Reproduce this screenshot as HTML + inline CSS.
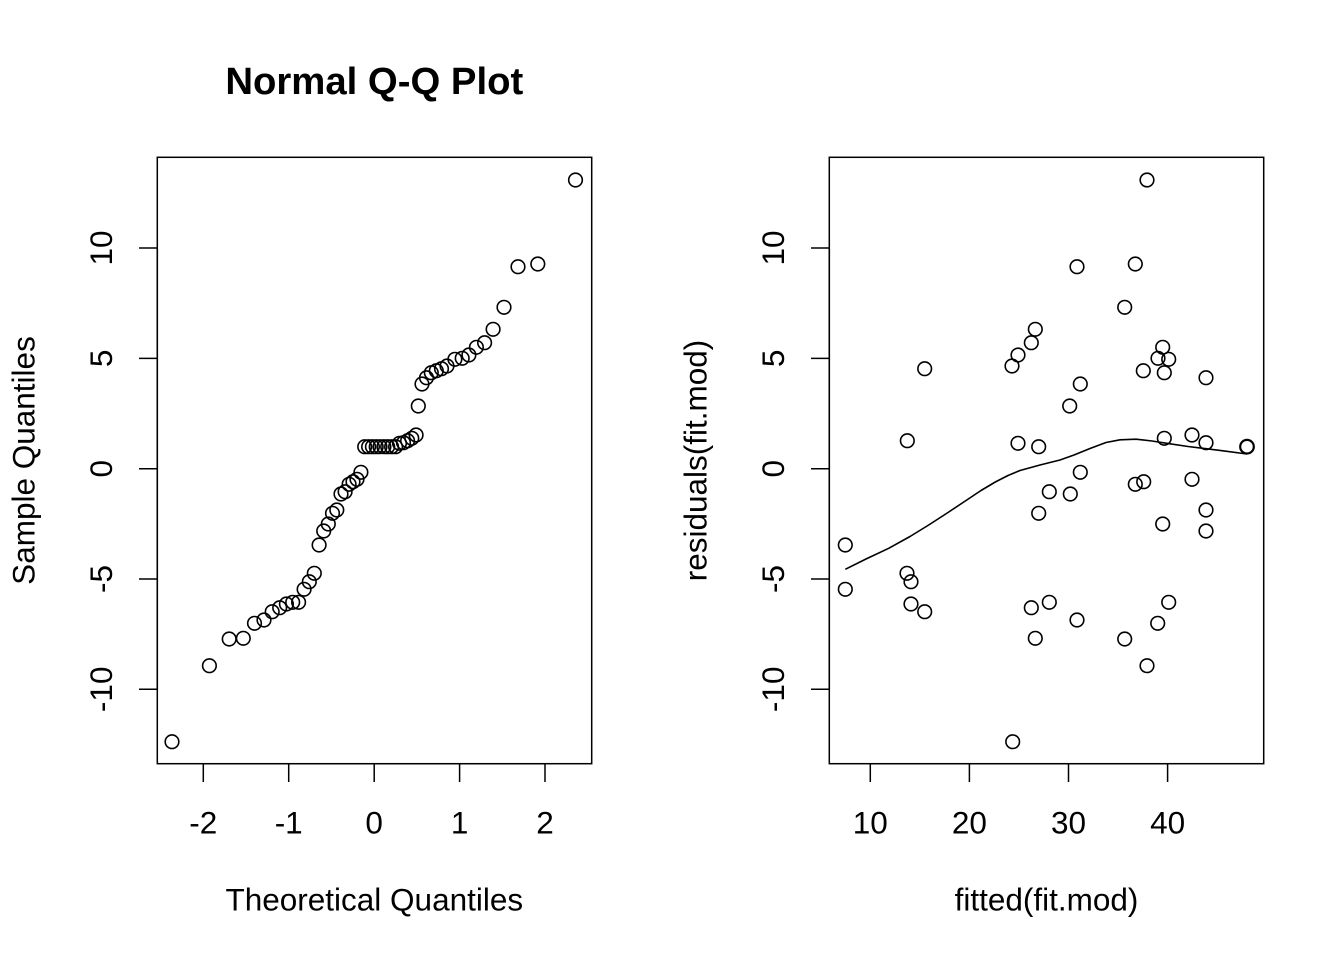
<!DOCTYPE html>
<html>
<head>
<meta charset="utf-8">
<style>
html,body{margin:0;padding:0;background:#fff;}
svg{display:block;}
text{font-family:"Liberation Sans",Arial,Helvetica,sans-serif;fill:#000;}
</style>
</head>
<body>
<svg width="1344" height="960" viewBox="0 0 1344 960" xmlns="http://www.w3.org/2000/svg">
<rect x="0" y="0" width="1344" height="960" fill="#fff"/>

<text x="374.3" y="94" font-size="38.3" font-weight="bold" text-anchor="middle">Normal Q-Q Plot</text>
<rect x="157.3" y="157.3" width="434.4" height="606.4" fill="none" stroke="#000" stroke-width="1.5"/>

<g stroke="#000" stroke-width="1.5" fill="none">
<line x1="203.3" y1="763.7" x2="545" y2="763.7"/>
<line x1="203.3" y1="763.7" x2="203.3" y2="782"/>
<line x1="288.7" y1="763.7" x2="288.7" y2="782"/>
<line x1="374.2" y1="763.7" x2="374.2" y2="782"/>
<line x1="459.6" y1="763.7" x2="459.6" y2="782"/>
<line x1="545" y1="763.7" x2="545" y2="782"/>
</g>
<g font-size="31.5" text-anchor="middle">
<text x="203.3" y="833.5">-2</text>
<text x="288.7" y="833.5">-1</text>
<text x="374.2" y="833.5">0</text>
<text x="459.6" y="833.5">1</text>
<text x="545" y="833.5">2</text>
</g>
<text x="374.3" y="910.5" font-size="31.5" text-anchor="middle">Theoretical Quantiles</text>

<g stroke="#000" stroke-width="1.5" fill="none">
<line x1="157.3" y1="248" x2="157.3" y2="689.3"/>
<line x1="139" y1="248" x2="157.3" y2="248"/>
<line x1="139" y1="358.4" x2="157.3" y2="358.4"/>
<line x1="139" y1="468.7" x2="157.3" y2="468.7"/>
<line x1="139" y1="579" x2="157.3" y2="579"/>
<line x1="139" y1="689.3" x2="157.3" y2="689.3"/>
</g>
<g font-size="31.5" text-anchor="middle">
<text transform="translate(112,248) rotate(-90)">10</text>
<text transform="translate(112,358.4) rotate(-90)">5</text>
<text transform="translate(112,468.7) rotate(-90)">0</text>
<text transform="translate(112,579) rotate(-90)">-5</text>
<text transform="translate(112,689.3) rotate(-90)">-10</text>
</g>
<text transform="translate(34.5,460.5) rotate(-90)" font-size="31.5" text-anchor="middle">Sample Quantiles</text>

<g fill="none" stroke="#000" stroke-width="1.6">
<circle cx="172.0" cy="741.7" r="6.8"/>
<circle cx="209.4" cy="665.7" r="6.8"/>
<circle cx="229.2" cy="639" r="6.8"/>
<circle cx="243.3" cy="638.3" r="6.8"/>
<circle cx="254.5" cy="623.3" r="6.8"/>
<circle cx="264.0" cy="620" r="6.8"/>
<circle cx="272.2" cy="611.7" r="6.8"/>
<circle cx="279.7" cy="607.7" r="6.8"/>
<circle cx="286.4" cy="604" r="6.8"/>
<circle cx="292.7" cy="602.3" r="6.8"/>
<circle cx="298.6" cy="602.3" r="6.8"/>
<circle cx="304.1" cy="589.3" r="6.8"/>
<circle cx="309.3" cy="581.7" r="6.8"/>
<circle cx="314.3" cy="573.3" r="6.8"/>
<circle cx="319.1" cy="545" r="6.8"/>
<circle cx="323.7" cy="531" r="6.8"/>
<circle cx="328.3" cy="524" r="6.8"/>
<circle cx="332.5" cy="513.3" r="6.8"/>
<circle cx="336.8" cy="510" r="6.8"/>
<circle cx="341.0" cy="494" r="6.8"/>
<circle cx="345.1" cy="491.7" r="6.8"/>
<circle cx="349.1" cy="484.3" r="6.8"/>
<circle cx="353.0" cy="481.7" r="6.8"/>
<circle cx="357.0" cy="479.3" r="6.8"/>
<circle cx="360.9" cy="472.3" r="6.8"/>
<circle cx="364.7" cy="446.7" r="6.8"/>
<circle cx="368.6" cy="446.7" r="6.8"/>
<circle cx="372.4" cy="446.7" r="6.8"/>
<circle cx="376.2" cy="446.7" r="6.8"/>
<circle cx="380.0" cy="446.7" r="6.8"/>
<circle cx="383.9" cy="446.7" r="6.8"/>
<circle cx="387.7" cy="446.7" r="6.8"/>
<circle cx="391.6" cy="446.7" r="6.8"/>
<circle cx="395.6" cy="446.7" r="6.8"/>
<circle cx="399.5" cy="443.3" r="6.8"/>
<circle cx="403.5" cy="442.7" r="6.8"/>
<circle cx="407.6" cy="440.7" r="6.8"/>
<circle cx="411.8" cy="438.3" r="6.8"/>
<circle cx="416.1" cy="435" r="6.8"/>
<circle cx="418.3" cy="406" r="6.8"/>
<circle cx="422.0" cy="384" r="6.8"/>
<circle cx="426.5" cy="377.7" r="6.8"/>
<circle cx="431.3" cy="372.7" r="6.8"/>
<circle cx="436.3" cy="370.7" r="6.8"/>
<circle cx="441.5" cy="368.7" r="6.8"/>
<circle cx="447.0" cy="366" r="6.8"/>
<circle cx="454.9" cy="359.3" r="6.8"/>
<circle cx="462.2" cy="358.3" r="6.8"/>
<circle cx="468.9" cy="355" r="6.8"/>
<circle cx="476.4" cy="347.3" r="6.8"/>
<circle cx="484.6" cy="342.7" r="6.8"/>
<circle cx="493.1" cy="329.3" r="6.8"/>
<circle cx="504.0" cy="307.3" r="6.8"/>
<circle cx="518.0" cy="266.7" r="6.8"/>
<circle cx="537.8" cy="264" r="6.8"/>
<circle cx="575.5" cy="180" r="6.8"/>
</g>

<rect x="829.3" y="157.3" width="434.4" height="606.4" fill="none" stroke="#000" stroke-width="1.5"/>

<g stroke="#000" stroke-width="1.5" fill="none">
<line x1="870.3" y1="763.7" x2="1167.6" y2="763.7"/>
<line x1="870.3" y1="763.7" x2="870.3" y2="782"/>
<line x1="969.4" y1="763.7" x2="969.4" y2="782"/>
<line x1="1068.5" y1="763.7" x2="1068.5" y2="782"/>
<line x1="1167.6" y1="763.7" x2="1167.6" y2="782"/>
</g>
<g font-size="31.5" text-anchor="middle">
<text x="870.3" y="833.5">10</text>
<text x="969.4" y="833.5">20</text>
<text x="1068.5" y="833.5">30</text>
<text x="1167.6" y="833.5">40</text>
</g>
<text x="1046.5" y="910.5" font-size="31.5" text-anchor="middle">fitted(fit.mod)</text>

<g stroke="#000" stroke-width="1.5" fill="none">
<line x1="829.3" y1="248" x2="829.3" y2="689.3"/>
<line x1="811" y1="248" x2="829.3" y2="248"/>
<line x1="811" y1="358.4" x2="829.3" y2="358.4"/>
<line x1="811" y1="468.7" x2="829.3" y2="468.7"/>
<line x1="811" y1="579" x2="829.3" y2="579"/>
<line x1="811" y1="689.3" x2="829.3" y2="689.3"/>
</g>
<g font-size="31.5" text-anchor="middle">
<text transform="translate(784,248) rotate(-90)">10</text>
<text transform="translate(784,358.4) rotate(-90)">5</text>
<text transform="translate(784,468.7) rotate(-90)">0</text>
<text transform="translate(784,579) rotate(-90)">-5</text>
<text transform="translate(784,689.3) rotate(-90)">-10</text>
</g>
<text transform="translate(706.5,460.5) rotate(-90)" font-size="31.5" text-anchor="middle">residuals(fit.mod)</text>

<polyline fill="none" stroke="#000" stroke-width="1.6" stroke-linejoin="round"
points="845.3,569.3 866,559 888.7,548.3 910,536.5 928.7,525 948,512.5 965.3,501 981,490.5 995.3,482 1008,475.5 1020,470.5 1040,465 1060,460 1074,455 1090,448.5 1106,442.5 1120,439.8 1136,439.2 1152,441 1170,443.8 1188,446.5 1205,448.6 1222,450.7 1247,454"/>

<g fill="none" stroke="#000" stroke-width="1.6">
<circle cx="1147" cy="180" r="6.8"/>
<circle cx="1077" cy="266.7" r="6.8"/>
<circle cx="1135.3" cy="264" r="6.8"/>
<circle cx="1124.7" cy="307.3" r="6.8"/>
<circle cx="1035.3" cy="329.3" r="6.8"/>
<circle cx="1031.3" cy="342.7" r="6.8"/>
<circle cx="1018" cy="355" r="6.8"/>
<circle cx="1012" cy="366" r="6.8"/>
<circle cx="924.7" cy="368.7" r="6.8"/>
<circle cx="1162.7" cy="347.3" r="6.8"/>
<circle cx="1158" cy="358.3" r="6.8"/>
<circle cx="1168.7" cy="359.3" r="6.8"/>
<circle cx="1143.3" cy="370.7" r="6.8"/>
<circle cx="1164.3" cy="372.7" r="6.8"/>
<circle cx="1206" cy="377.7" r="6.8"/>
<circle cx="1080.3" cy="384" r="6.8"/>
<circle cx="1069.7" cy="406" r="6.8"/>
<circle cx="907.3" cy="440.7" r="6.8"/>
<circle cx="1018" cy="443.3" r="6.8"/>
<circle cx="1038.7" cy="446.7" r="6.8"/>
<circle cx="1164.3" cy="438.3" r="6.8"/>
<circle cx="1192" cy="435" r="6.8"/>
<circle cx="1206" cy="442.7" r="6.8"/>
<circle cx="1247" cy="446.7" r="6.8" stroke-width="2.2"/>
<circle cx="1080.3" cy="472.3" r="6.8"/>
<circle cx="1049.3" cy="491.7" r="6.8"/>
<circle cx="1070.3" cy="494" r="6.8"/>
<circle cx="1038.7" cy="513.3" r="6.8"/>
<circle cx="1135.3" cy="484.3" r="6.8"/>
<circle cx="1143.7" cy="481.7" r="6.8"/>
<circle cx="1192" cy="479.3" r="6.8"/>
<circle cx="1206" cy="510" r="6.8"/>
<circle cx="1162.7" cy="524" r="6.8"/>
<circle cx="1206" cy="531" r="6.8"/>
<circle cx="845.3" cy="545" r="6.8"/>
<circle cx="845.3" cy="589.3" r="6.8"/>
<circle cx="907" cy="573.3" r="6.8"/>
<circle cx="911" cy="581.7" r="6.8"/>
<circle cx="911" cy="604" r="6.8"/>
<circle cx="924.7" cy="611.7" r="6.8"/>
<circle cx="1031.3" cy="607.7" r="6.8"/>
<circle cx="1049.3" cy="602.3" r="6.8"/>
<circle cx="1077" cy="620" r="6.8"/>
<circle cx="1035.3" cy="638.3" r="6.8"/>
<circle cx="1168.7" cy="602.3" r="6.8"/>
<circle cx="1157.7" cy="623.3" r="6.8"/>
<circle cx="1124.7" cy="639" r="6.8"/>
<circle cx="1147" cy="665.7" r="6.8"/>
<circle cx="1012.7" cy="741.7" r="6.8"/>
</g>
</svg>
</body>
</html>
